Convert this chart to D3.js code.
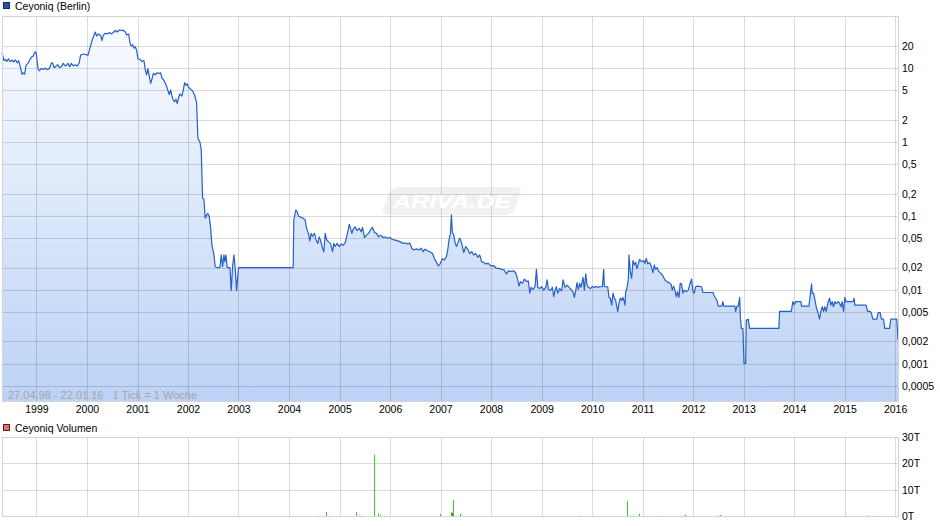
<!DOCTYPE html>
<html>
<head>
<meta charset="utf-8">
<script src="https://cdn.jsdelivr.net/npm/d3@7"></script>
<style>
    body { margin: 0; background: #fff; }
    svg { font-family: "Liberation Sans", Arial, sans-serif; }
    .grid line { stroke: #000; stroke-opacity: 0.14; shape-rendering: crispEdges; }
    .grid path { display: none; }
    .grid text { font-size: 10.5px; fill: #000; }
    .frame { fill: none; stroke: #d4d4d4; shape-rendering: crispEdges; }
    .kurs { fill: none; stroke: #2560c8; stroke-width: 1.2px; stroke-linejoin: round; }
    .legend text { font-size: 10.5px; fill: #000; }
</style>
</head>
<body>
<div id="chart"></div>
<script>
    // Wochenschlusskurse [Jahr als Dezimalzahl, Kurs in EUR]
    var kurs = [
        [1998.318,16.0],[1998.358,12.6],[1998.384,13.1],[1998.411,12.3],[1998.444,13.4],[1998.477,12.2],[1998.516,12.9],[1998.543,12.1],[1998.582,12.9],[1998.622,11.8],
        [1998.648,12.6],[1998.688,9.9],[1998.714,8.2],[1998.740,8.6],[1998.767,8.3],[1998.793,10.9],[1998.833,11.6],[1998.872,13.1],[1998.912,14.3],[1998.938,14.6],
        [1998.965,16.3],[1998.991,16.5],
        [1999.004,14.6],[1999.031,9.8],[1999.057,9.2],[1999.097,9.9],[1999.136,9.6],[1999.176,10.0],[1999.215,9.5],[1999.255,9.8],[1999.294,11.6],[1999.321,11.8],
        [1999.347,10.2],[1999.374,10.3],[1999.400,10.9],[1999.426,11.1],[1999.453,10.2],[1999.492,10.4],[1999.532,11.6],[1999.558,10.9],[1999.585,10.7],[1999.624,11.6],
        [1999.664,10.4],[1999.690,11.6],[1999.730,10.7],[1999.769,11.1],[1999.809,10.7],[1999.848,11.8],[1999.875,15.0],[1999.928,15.5],[1999.980,15.2],
        [2000.020,14.9],[2000.046,17.2],[2000.086,21.7],[2000.125,26.1],[2000.165,30.8],[2000.192,27.1],[2000.231,29.0],[2000.271,27.7],[2000.297,23.5],[2000.323,27.7],
        [2000.363,29.6],[2000.402,29.0],[2000.442,30.3],[2000.482,29.0],[2000.521,30.3],[2000.561,32.3],[2000.600,30.8],[2000.640,32.8],[2000.679,32.3],[2000.719,32.5],
        [2000.759,30.8],[2000.785,28.0],[2000.825,29.0],[2000.851,21.7],[2000.877,19.9],[2000.904,20.7],[2000.930,18.6],[2000.956,19.5],[2000.983,17.2],
        [2001.009,13.4],[2001.049,13.1],[2001.088,12.3],[2001.128,12.6],[2001.154,9.4],[2001.181,8.1],[2001.207,9.8],[2001.233,7.8],[2001.260,6.2],[2001.286,7.1],
        [2001.313,8.5],[2001.352,8.1],[2001.379,8.6],[2001.418,8.5],[2001.458,8.6],[2001.484,7.3],[2001.524,6.8],[2001.563,6.0],[2001.603,4.95],[2001.629,4.4],
        [2001.656,5.05],[2001.682,4.2],[2001.708,3.7],[2001.735,3.5],[2001.761,3.8],[2001.787,3.3],[2001.814,4.0],[2001.840,4.46],[2001.880,4.2],[2001.906,5.05],
        [2001.933,6.35],[2001.959,5.85],[2001.985,6.1],
        [2002.012,5.5],[2002.051,5.2],[2002.091,4.9],[2002.131,4.3],[2002.170,3.4],[2002.196,1.12],[2002.236,1.0],[2002.262,0.78],[2002.289,0.173],[2002.315,0.168],
        [2002.341,0.093],[2002.368,0.103],[2002.394,0.108],[2002.421,0.098],[2002.447,0.071],[2002.473,0.0404],[2002.513,0.030],[2002.539,0.0205],[2002.579,0.020],[2002.632,0.020],
        [2002.658,0.0296],[2002.685,0.0205],[2002.711,0.0296],[2002.731,0.024],[2002.750,0.0296],[2002.777,0.020],[2002.830,0.020],[2002.856,0.0098],[2002.882,0.020],[2002.909,0.0296],
        [2002.935,0.020],[2002.962,0.0098],
        [2003.001,0.020],[2004.083,0.020],
        [2004.096,0.088],[2004.135,0.120],[2004.162,0.114],[2004.188,0.0995],[2004.241,0.0956],[2004.281,0.093],[2004.320,0.088],[2004.347,0.068],[2004.386,0.058],[2004.412,0.046],
        [2004.439,0.058],[2004.465,0.053],[2004.505,0.058],[2004.531,0.048],[2004.571,0.0425],[2004.597,0.052],[2004.624,0.047],[2004.663,0.0365],[2004.690,0.0328],[2004.716,0.058],
        [2004.742,0.048],[2004.782,0.0445],[2004.821,0.0425],[2004.861,0.0328],[2004.887,0.0425],[2004.914,0.0385],[2004.953,0.0425],[2004.993,0.0385],
        [2005.032,0.0418],[2005.072,0.040],[2005.112,0.0435],[2005.138,0.052],[2005.164,0.061],[2005.191,0.077],[2005.217,0.068],[2005.244,0.058],[2005.270,0.066],[2005.310,0.071],
        [2005.349,0.063],[2005.389,0.068],[2005.428,0.061],[2005.455,0.070],[2005.494,0.051],[2005.534,0.055],[2005.573,0.058],[2005.613,0.0645],[2005.652,0.070],[2005.692,0.0595],
        [2005.732,0.058],[2005.771,0.052],[2005.811,0.055],[2005.864,0.051],[2005.903,0.052],[2005.943,0.050],[2005.995,0.051],
        [2006.048,0.048],[2006.101,0.047],[2006.154,0.046],[2006.206,0.0445],[2006.259,0.0425],[2006.299,0.043],[2006.352,0.0418],[2006.391,0.043],[2006.431,0.0365],[2006.470,0.0346],
        [2006.523,0.0358],[2006.576,0.0346],[2006.615,0.0365],[2006.655,0.0328],[2006.694,0.0355],[2006.734,0.034],[2006.787,0.0328],[2006.840,0.031],[2006.879,0.0266],[2006.919,0.0235],
        [2006.958,0.021],[2006.998,0.0228],
        [2007.037,0.0264],[2007.077,0.0253],[2007.117,0.0282],[2007.143,0.0346],[2007.169,0.048],[2007.196,0.058],[2007.216,0.103],[2007.235,0.0595],[2007.262,0.055],[2007.288,0.0435],
        [2007.315,0.0385],[2007.341,0.0425],[2007.380,0.050],[2007.420,0.0425],[2007.460,0.0318],[2007.499,0.0385],[2007.539,0.0355],[2007.578,0.031],[2007.618,0.0328],[2007.657,0.0296],
        [2007.697,0.031],[2007.737,0.0275],[2007.776,0.0296],[2007.816,0.024],[2007.855,0.0235],[2007.895,0.0224],[2007.948,0.0228],
        [2008.000,0.021],[2008.053,0.0213],[2008.106,0.0195],[2008.159,0.0195],[2008.211,0.0189],[2008.264,0.0185],[2008.304,0.0164],[2008.343,0.018],[2008.396,0.0178],[2008.449,0.018],
        [2008.488,0.017],[2008.528,0.0136],[2008.554,0.0112],[2008.581,0.0129],[2008.620,0.0122],[2008.660,0.014],[2008.700,0.013],[2008.739,0.0131],[2008.765,0.009],[2008.792,0.0108],
        [2008.831,0.0101],[2008.871,0.0111],[2008.897,0.0189],[2008.924,0.0108],[2008.963,0.0104],
        [2009.003,0.011],[2009.042,0.0099],[2009.082,0.0108],[2009.108,0.0136],[2009.135,0.0101],[2009.174,0.0098],[2009.214,0.0108],[2009.240,0.0081],[2009.267,0.0099],[2009.293,0.011],
        [2009.319,0.009],[2009.359,0.0104],[2009.398,0.0097],[2009.425,0.0136],[2009.464,0.0108],[2009.504,0.0116],[2009.543,0.0108],[2009.583,0.0101],[2009.623,0.0094],[2009.649,0.0079],
        [2009.675,0.0097],[2009.702,0.0125],[2009.728,0.0101],[2009.755,0.0122],[2009.781,0.0108],[2009.821,0.0147],[2009.847,0.0099],[2009.873,0.0164],[2009.900,0.0116],[2009.926,0.0108],
        [2009.966,0.0104],
        [2010.005,0.0111],[2010.045,0.0108],[2010.085,0.0111],[2010.124,0.0108],[2010.151,0.011],[2010.203,0.011],[2010.230,0.0189],[2010.243,0.011],[2010.309,0.011],[2010.335,0.0079],
        [2010.361,0.0077],[2010.388,0.0062],[2010.414,0.009],[2010.441,0.0077],[2010.467,0.0072],[2010.507,0.0051],[2010.533,0.0066],[2010.559,0.0077],[2010.586,0.0072],[2010.612,0.0079],
        [2010.638,0.0069],[2010.652,0.0062],[2010.665,0.0094],[2010.691,0.0105],[2010.718,0.014],[2010.731,0.0296],[2010.757,0.0176],[2010.784,0.0143],[2010.810,0.0249],[2010.837,0.0217],
        [2010.863,0.0235],[2010.889,0.0194],[2010.916,0.0224],[2010.942,0.0259],[2010.982,0.024],
        [2011.021,0.0249],[2011.047,0.0228],[2011.074,0.0266],[2011.100,0.0224],[2011.140,0.0235],[2011.179,0.020],[2011.206,0.017],[2011.232,0.0217],[2011.258,0.0189],[2011.285,0.020],
        [2011.324,0.0176],[2011.364,0.0167],[2011.403,0.0154],[2011.443,0.0136],[2011.482,0.0129],[2011.522,0.0125],[2011.562,0.012],[2011.588,0.0099],[2011.614,0.0112],[2011.641,0.0099],
        [2011.667,0.0081],[2011.694,0.0094],[2011.720,0.0079],[2011.746,0.0122],[2011.773,0.012],[2011.799,0.009],[2011.826,0.0099],[2011.865,0.0094],[2011.905,0.0099],[2011.931,0.0116],
        [2011.971,0.014],[2011.997,0.0094],
        [2012.024,0.009],[2012.050,0.011],[2012.089,0.0112],[2012.168,0.011],[2012.195,0.0092],[2012.393,0.0092],[2012.419,0.0083],[2012.446,0.0077],[2012.472,0.0072],[2012.498,0.006],
        [2012.564,0.006],[2012.591,0.0069],[2012.604,0.006],[2012.828,0.006],[2012.841,0.0051],[2012.868,0.006],[2012.894,0.006],[2012.921,0.0079],[2012.934,0.0043],[2012.954,0.003],
        [2012.986,0.003],
        [2013.006,0.00101],[2013.039,0.00101],[2013.052,0.0039],[2013.092,0.004],[2013.118,0.003],[2013.698,0.003],[2013.712,0.0051],[2013.943,0.0051],[2013.976,0.0069],
        [2014.002,0.0063],[2014.028,0.0069],[2014.134,0.0069],[2014.147,0.006],[2014.292,0.006],[2014.319,0.0085],[2014.345,0.012],[2014.358,0.009],[2014.385,0.009],[2014.411,0.0073],
        [2014.437,0.0059],[2014.464,0.0051],[2014.503,0.004],[2014.530,0.0051],[2014.556,0.0059],[2014.583,0.0051],[2014.609,0.0059],[2014.635,0.0051],[2014.675,0.0069],[2014.701,0.0077],
        [2014.728,0.0062],[2014.754,0.0069],[2014.780,0.0059],[2014.807,0.0069],[2014.833,0.0065],[2014.873,0.0069],[2014.899,0.0066],[2014.926,0.0059],[2014.952,0.0069],[2014.978,0.0051],
        [2015.005,0.0079],[2015.031,0.0069],[2015.163,0.0069],[2015.189,0.0077],[2015.202,0.0062],[2015.427,0.0062],[2015.453,0.0051],[2015.506,0.0051],[2015.532,0.0048],[2015.559,0.004],
        [2015.638,0.004],[2015.664,0.0049],[2015.704,0.0049],[2015.730,0.004],[2015.770,0.004],[2015.796,0.003],[2015.889,0.003],[2015.915,0.004],
        [2016.034,0.004],[2016.057,0.0021]
    ];

    // Umsatz (in Tausend Stück) und Richtung der Woche
    var volDates = [2004.571, 2004.725, 2005.331, 2005.378, 2005.402, 2005.675, 2005.770, 2005.794, 2005.877, 2006.074,
                    2006.981, 2007.202, 2007.230, 2007.254, 2007.380, 2007.432, 2009.735, 2010.103, 2010.685, 2010.744,
                    2010.815, 2010.934, 2011.314, 2011.836, 2012.489, 2012.537, 2015.018, 2015.445, 2015.588];
    var volValues = [0.1, 1.5, 1.5, 0.15, 0.1, 23.2, 1.0, 0.3, 0.1, 0.1,
                     0.8, 1.5, 1.2, 6.1, 0.8, 0.2, 0.2, 0.1, 5.8, 0.1,
                     0.15, 0.8, 0.2, 0.4, 0.15, 0.4, 0.1, 0.15, 0.2];
    var volDir = ["down", "up", "up", "down", "down", "up", "up", "down", "flat", "flat",
                  "up", "up", "down", "up", "up", "flat", "flat", "flat", "up", "down",
                  "down", "up", "flat", "down", "down", "flat", "up", "down", "flat"];

    var yearTicks = [1999, 2000, 2001, 2002, 2003, 2004, 2005, 2006, 2007, 2008, 2009, 2010, 2011, 2012, 2013, 2014, 2015, 2016];
    var priceTicks = [20, 10, 5, 2, 1, 0.5, 0.2, 0.1, 0.05, 0.02, 0.01, 0.005, 0.002, 0.001, 0.0005];
    var volTicks = [0, 10, 20, 30];

    var width = 940, height = 526;
    var plot = {left: 2, right: 898, top: 16, bottom: 401.5};
    var vol = {top: 437, bottom: 516};

    function decYear(v) {
        var yr = Math.floor(v);
        var a = new Date(yr, 0, 1), b = new Date(yr + 1, 0, 1);
        return new Date(a.getTime() + (v - yr) * (b - a));
    }

    var points = kurs.map(function (d) { return {date: decYear(d[0]), value: d[1]}; });
    var bars = volDates.map(function (d, i) { return {date: decYear(d), value: volValues[i], dir: volDir[i]}; });

    var x = d3.scaleTime().domain([new Date(1998, 3, 27), new Date(2016, 0, 22)]).range([plot.left, plot.right]);
    var y = d3.scaleLog().domain([0.000308, 50.7]).range([plot.bottom, plot.top]);
    var yVol = d3.scaleLinear().domain([0, 30]).range([vol.bottom, vol.top]);

    var svg = d3.select("#chart").append("svg")
        .attr("width", width)
        .attr("height", height);

    var grad = svg.append("defs").append("linearGradient")
        .attr("id", "fillGrad")
        .attr("gradientUnits", "userSpaceOnUse")
        .attr("x1", 0).attr("y1", plot.top).attr("x2", 0).attr("y2", plot.bottom);
    grad.append("stop").attr("offset", 0).attr("stop-color", "#fbfdff");
    grad.append("stop").attr("offset", 1).attr("stop-color", "#bcd2f6");

    // Kursflaeche
    var area = d3.area()
        .x(function (d) { return x(d.date); })
        .y0(plot.bottom)
        .y1(function (d) { return y(d.value); });
    svg.append("path").datum(points).attr("d", area).attr("fill", "url(#fillGrad)");

    // Raster + Achsen oben
    svg.append("g")
        .attr("class", "grid")
        .attr("transform", "translate(0," + plot.bottom + ")")
        .call(d3.axisBottom(x)
            .tickValues(yearTicks.map(function (d) { return new Date(d, 0, 1); }))
            .tickSize(-(plot.bottom - plot.top))
            .tickPadding(4)
            .tickFormat(d3.timeFormat("%Y")));

    svg.append("g")
        .attr("class", "grid")
        .attr("transform", "translate(" + plot.right + ",0)")
        .call(d3.axisRight(y)
            .tickValues(priceTicks)
            .tickSize(-(plot.right - plot.left))
            .tickPadding(4)
            .tickFormat(function (d) { return String(d).replace(".", ","); }));

    // Wasserzeichen
    var wm = svg.append("g").attr("transform", "translate(452,201)");
    wm.append("rect")
        .attr("transform", "skewX(-20)")
        .attr("x", -66).attr("y", -14).attr("width", 132).attr("height", 28).attr("rx", 7)
        .attr("fill", "#000").attr("fill-opacity", 0.055);
    wm.append("text")
        .attr("x", 0).attr("y", 7)
        .attr("text-anchor", "middle")
        .attr("textLength", 118)
        .attr("lengthAdjust", "spacingAndGlyphs")
        .style("font-size", "18px")
        .style("font-weight", "bold")
        .style("font-style", "italic")
        .attr("fill", "#fff")
        .text("ARIVA.DE");

    var line = d3.line()
        .x(function (d) { return x(d.date); })
        .y(function (d) { return y(d.value); });
    svg.append("path").datum(points).attr("class", "kurs").attr("d", line);

    svg.append("rect").attr("class", "frame")
        .attr("x", plot.left).attr("y", plot.top)
        .attr("width", plot.right - plot.left).attr("height", plot.bottom - plot.top);

    svg.append("text")
        .attr("x", 8).attr("y", 398.5)
        .style("font-size", "11px")
        .style("white-space", "pre")
        .attr("fill", "#a3a3a3")
        .text("27.04.98 - 22.01.16   1 Tick = 1 Woche");

    // Volumen
    svg.append("g")
        .attr("class", "grid")
        .attr("transform", "translate(0," + vol.bottom + ")")
        .call(d3.axisBottom(x)
            .tickValues(yearTicks.map(function (d) { return new Date(d, 0, 1); }))
            .tickSize(-(vol.bottom - vol.top))
            .tickFormat(""));

    svg.append("g")
        .attr("class", "grid")
        .attr("transform", "translate(" + plot.right + ",0)")
        .call(d3.axisRight(yVol)
            .tickValues(volTicks)
            .tickSize(-(plot.right - plot.left))
            .tickPadding(4)
            .tickFormat(function (d) { return d + "T"; }));

    var barColor = {up: "#33cc33", down: "#dd3333", flat: "#999999"};
    svg.selectAll("rect.vol").data(bars).enter()
        .append("rect")
        .attr("class", "vol")
        .attr("x", function (d) { return Math.round(x(d.date)); })
        .attr("width", 1)
        .attr("y", function (d) { return yVol(d.value); })
        .attr("height", function (d) { return vol.bottom - yVol(d.value); })
        .attr("fill", function (d) { return barColor[d.dir]; });

    svg.append("rect").attr("class", "frame")
        .attr("x", plot.left).attr("y", vol.top)
        .attr("width", plot.right - plot.left).attr("height", vol.bottom - vol.top);

    // Legenden
    var leg = svg.append("g").attr("class", "legend");
    leg.append("rect").attr("x", 3.5).attr("y", 2.5).attr("width", 6).attr("height", 6)
        .attr("fill", "#1c52b8").attr("stroke", "#1a2a55");
    leg.append("text").attr("x", 15).attr("y", 10).text("Ceyoniq (Berlin)");
    leg.append("rect").attr("x", 3.5).attr("y", 424.5).attr("width", 6).attr("height", 6)
        .attr("fill", "#e07070").attr("stroke", "#5a2020");
    leg.append("text").attr("x", 15).attr("y", 432).text("Ceyoniq Volumen");
</script>
</body>
</html>
